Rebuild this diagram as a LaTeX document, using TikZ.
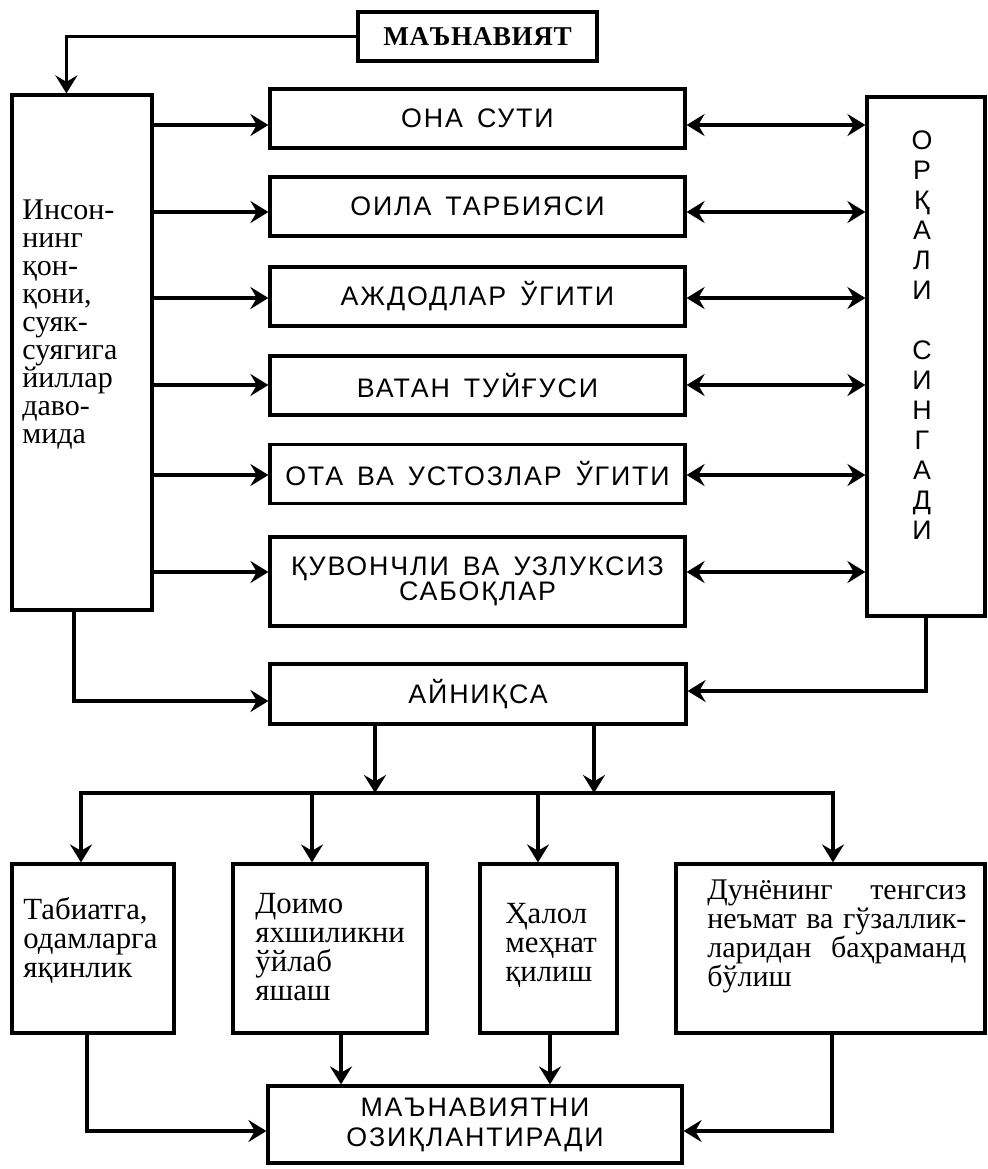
\documentclass[tikz,border=0pt]{standalone}
\usepackage{fontspec}
\setmainfont{Liberation Serif}
\newfontfamily\capsf[LetterSpace=7,WordSpace=1.5]{Liberation Sans}
\newfontfamily\plainsf{Liberation Sans}
\newfontfamily\topserif[LetterSpace=2]{Liberation Serif}
\usetikzlibrary{arrows.meta}
\tikzset{
  box/.style={draw, line width=1.6pt, inner sep=0pt},
  mb/.style={box, minimum width=207.5pt, minimum height=29.5pt, align=center,
    font=\capsf\fontsize{13.4}{12.5}\selectfont},
  ltxt/.style={inner sep=0pt, align=left, anchor=north west,
    font=\fontsize{15.4}{14.5}\selectfont},
  tip/.tip={Stealth[length=9pt,width=11pt,inset=3.2pt]},
  arr/.style={line width=1.6pt, -tip},
  arrb/.style={line width=1.6pt, tip-tip}
}
\begin{document}
\begin{tikzpicture}[x=0.5pt,y=-0.5pt]
\useasboundingbox (0,0) rectangle (988,1169);
% top
\node[box, minimum width=119.5pt, minimum height=24.5pt,
  font=\topserif\bfseries\fontsize{13.6}{15}\selectfont] (top) at (477.5,36.5) {МАЪНАВИЯТ};
% left box
\node[box, minimum width=70pt, minimum height=257.5pt] (left) at (82,352.5) {};
\node[inner sep=0pt, align=left, anchor=north west, font=\fontsize{15}{14}\selectfont]
  (lefttxt) at (22,199) {Инсон-\\нинг\\қон-\\қони,\\суяк-\\суягига\\йиллар\\даво-\\мида};
% middle boxes
\node[mb] (m1) at (477.5,118.5) {ОНА СУТИ};
\node[mb] (m2) at (477.5,206.5) {ОИЛА ТАРБИЯСИ};
\node[mb] (m3) at (477.5,296.5) {АЖДОДЛАР ЎГИТИ};
\node[mb] (m4) at (477.5,385.5) {ВАТАН ТУЙҒУСИ};
\node[mb] (m5) at (477.5,474) {ОТА ВА УСТОЗЛАР ЎГИТИ};
\node[mb, minimum height=44.5pt] (m6) at (477.5,581.5) {ҚУВОНЧЛИ ВА УЗЛУКСИЗ\\САБОҚЛАР};
\node[mb, minimum width=208pt, minimum height=30pt] (ayn) at (478,694) {АЙНИҚСА};
% right box
\node[box, minimum width=59pt, minimum height=259.5pt] (right) at (926,356.5) {};
\node[inner sep=0pt, align=center, font=\plainsf\fontsize{13.4}{15}\selectfont]
  (righttxt) at (922,335) {О\\Р\\Қ\\А\\Л\\И\\[15pt]С\\И\\Н\\Г\\А\\Д\\И};
% bottom boxes
\node[box, minimum width=81pt, minimum height=84.5pt] (ba) at (93,948.5) {};
\node[box, minimum width=97pt, minimum height=84.5pt] (bb) at (330,948.5) {};
\node[box, minimum width=68.5pt, minimum height=84.5pt] (bc) at (548.5,948.5) {};
\node[box, minimum width=154.5pt, minimum height=84.5pt] (bd) at (830.5,948.5) {};
\node[ltxt] (ta) at (23,897) {Табиатга,\\одамларга\\яқинлик};
\node[ltxt] (tb) at (255,893) {Доимо\\яхшиликни\\ўйлаб\\яшаш};
\node[ltxt] (tc) at (505,903) {Ҳалол\\меҳнат\\қилиш};
\node[ltxt, font=\fontsize{15}{14.5}\selectfont] (td) at (707,879) {\hbox to 129.5pt{Дунёнинг\hfill тенгсиз}\\
  \hbox to 129.5pt{неъмат\hfill ва\hfill гўзаллик-}\\
  \hbox to 129.5pt{ларидан\hfill баҳраманд}\\ бўлиш};
% final box
\node[box, minimum width=207pt, minimum height=38.5pt, align=center,
  font=\capsf\fontsize{13.4}{15}\selectfont] (fin) at (475,1124.5) {МАЪНАВИЯТНИ\\ОЗИҚЛАНТИРАДИ};
% connectors
\draw[arr] (top.west) -| ([xshift=28pt]left.north west);
\foreach \n/\y in {m1/125, m2/212, m3/298, m4/385, m5/475, m6/572} {
  \draw[arr] (left.east |- 0,\y) -- (\n.west |- 0,\y);
  \draw[arrb] (\n.east |- 0,\y) -- (right.west |- 0,\y);
}
\draw[arr] (left.south -| 74,0) |- (ayn.west |- 0,701);
\draw[arr] (right.south) |- (ayn.east |- 0,691);
\coordinate (busL) at (81,793);
\coordinate (busR) at (833,793);
\draw[arr] (ayn.south -| 375,0) -- (busL -| 375,0);
\draw[arr] (ayn.south -| 594,0) -- (busL -| 594,0);
\draw[arrb] (ba.north -| busL) -- (busL) -- (busR) -- (bd.north -| busR);
\draw[arr] (busL -| 312,0) -- (bb.north -| 312,0);
\draw[arr] (busL -| 538,0) -- (bc.north -| 538,0);
\draw[arr] (ba.south -| 87,0) |- (fin.west |- 0,1131);
\draw[arr] (bb.south -| 341,0) -- (fin.north -| 341,0);
\draw[arr] (bc.south -| 550,0) -- (fin.north -| 550,0);
\draw[arr] (bd.south -| 832,0) |- (fin.east |- 0,1131);
\end{tikzpicture}
\end{document}
